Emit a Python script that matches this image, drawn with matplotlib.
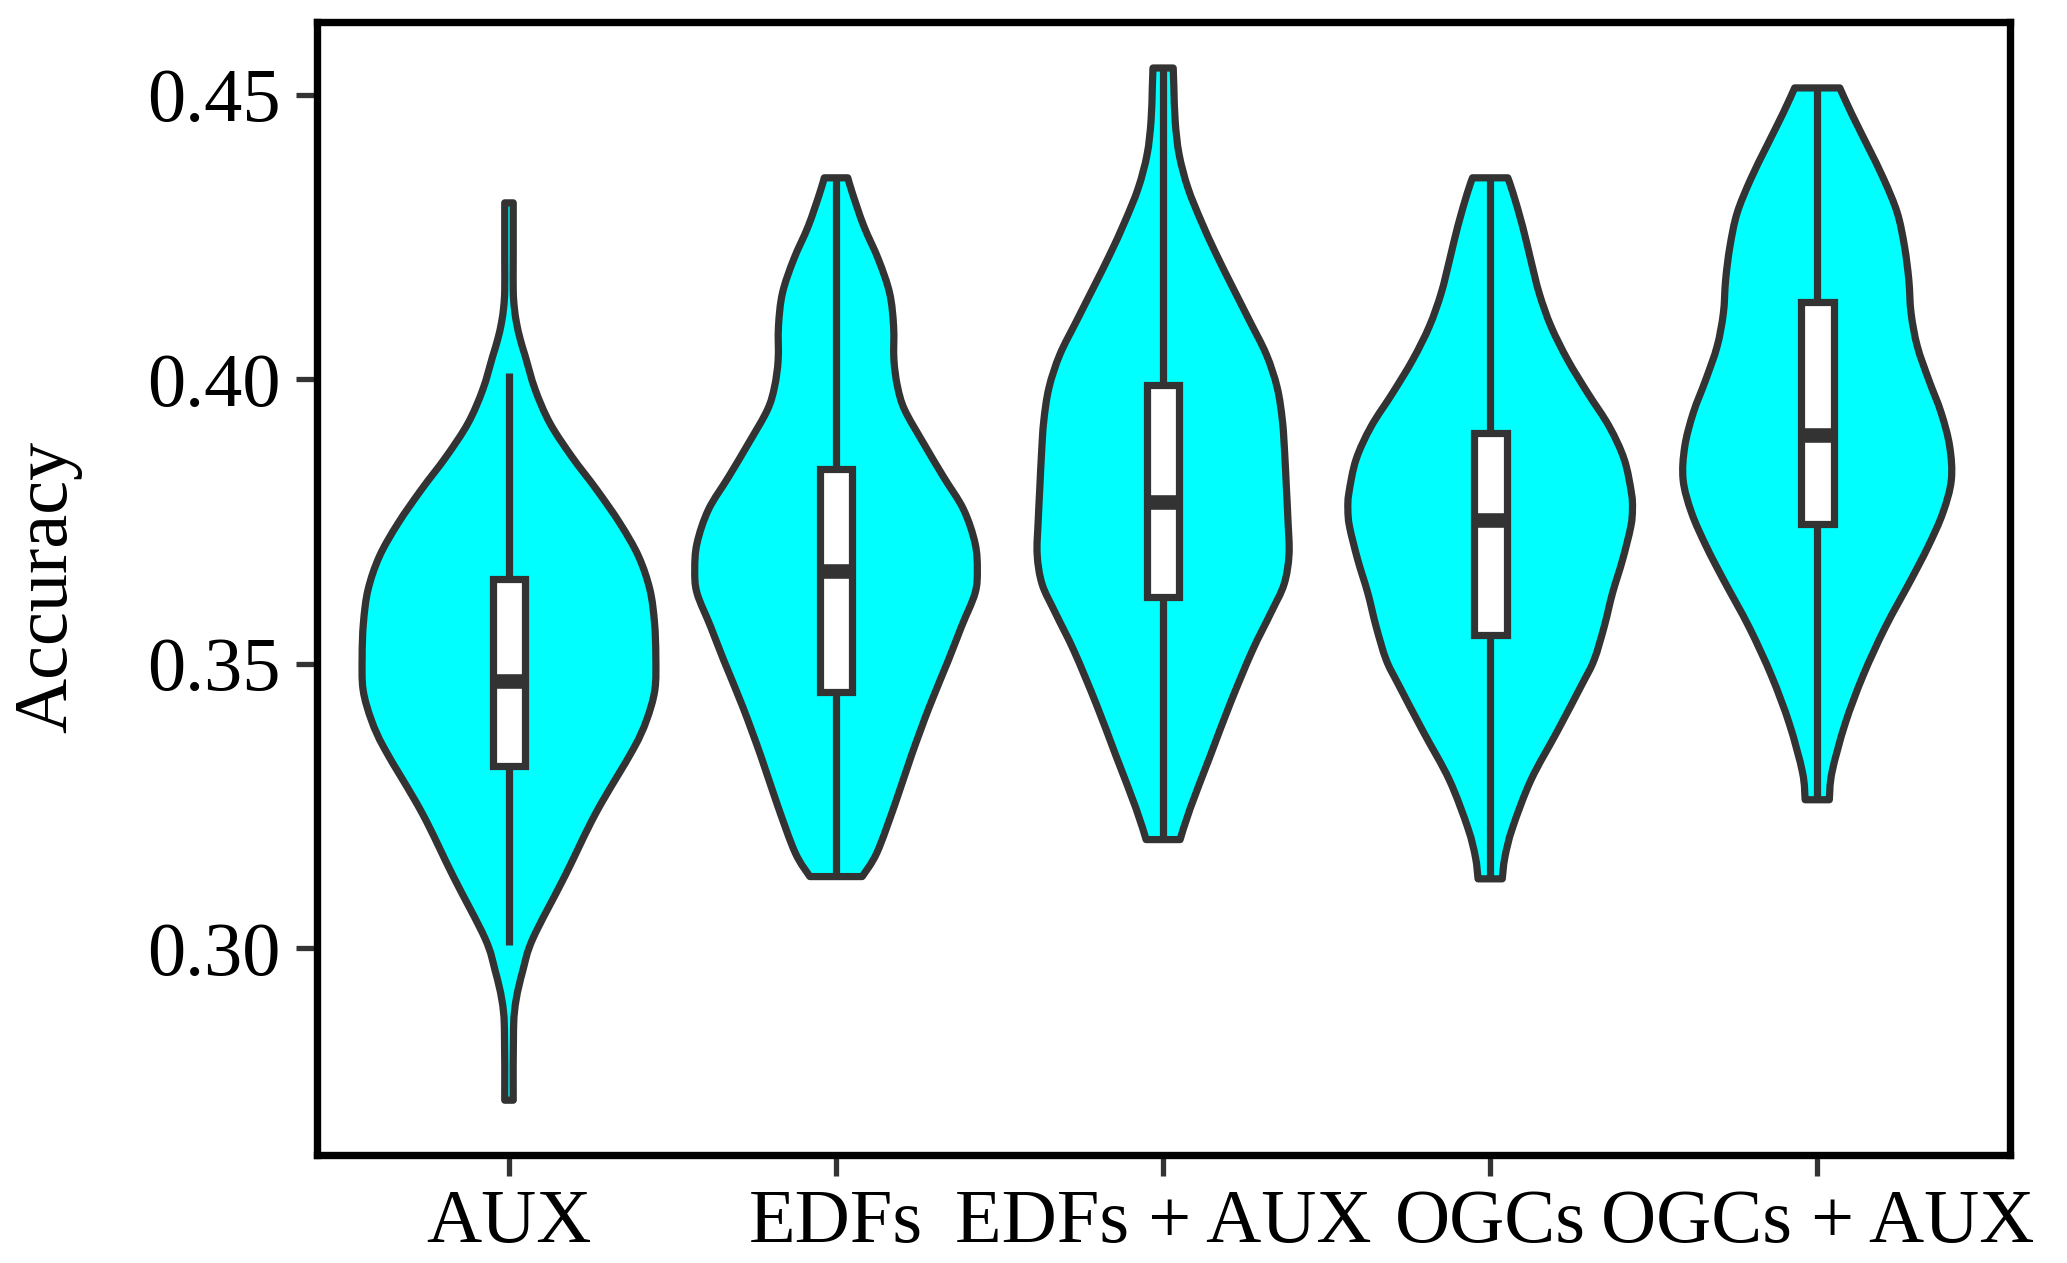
import numpy as np
import matplotlib.pyplot as plt
from matplotlib.path import Path
from matplotlib.patches import PathPatch

plt.rcParams['font.family'] = ['Liberation Serif', 'DejaVu Serif']

groups = ['AUX', 'EDFs', 'EDFs + AUX', 'OGCs', 'OGCs + AUX']

# violin outlines: accuracy level -> half width (x units)
aux_lv = [0.4310, 0.4216, 0.4157, 0.4128, 0.4099, 0.4069, 0.4040, 0.3982, 0.3923, 0.3864,
          0.3806, 0.3747, 0.3689, 0.3630, 0.3572, 0.3513, 0.3454, 0.3400, 0.3349, 0.3238,
          0.3127, 0.3017, 0.2960, 0.2910, 0.2860, 0.2733]
aux_hw = [0.013, 0.013, 0.013, 0.016, 0.023, 0.035, 0.050, 0.080, 0.125, 0.192,
          0.268, 0.339, 0.396, 0.431, 0.445, 0.449, 0.446, 0.420, 0.379, 0.266,
          0.171, 0.073, 0.042, 0.022, 0.014, 0.013]

edf_lv = [0.4354, 0.4327, 0.4269, 0.4210, 0.4151, 0.4093, 0.4034, 0.3987, 0.3946, 0.3888,
          0.3829, 0.3771, 0.3712, 0.3665, 0.3624, 0.3566, 0.3507, 0.3424, 0.3338, 0.3253,
          0.3168, 0.3126]
edf_hw = [0.036, 0.050, 0.085, 0.130, 0.164, 0.176, 0.177, 0.188, 0.210, 0.267,
          0.328, 0.390, 0.425, 0.432, 0.425, 0.384, 0.344, 0.285, 0.230, 0.180,
          0.125, 0.080]

edfaux_lv = [0.4547, 0.4512, 0.4453, 0.4395, 0.4336, 0.4277, 0.4219, 0.4160, 0.4102, 0.4043,
             0.3985, 0.3926, 0.3867, 0.3809, 0.3750, 0.3692, 0.3640, 0.3590, 0.3522, 0.3430,
             0.3338, 0.3246, 0.3191]
edfaux_hw = [0.031, 0.033, 0.037, 0.049, 0.076, 0.117, 0.163, 0.214, 0.265, 0.316,
             0.349, 0.365, 0.372, 0.377, 0.382, 0.385, 0.370, 0.330, 0.272, 0.205,
             0.144, 0.083, 0.052]

ogc_lv = [0.4354, 0.4327, 0.4269, 0.4210, 0.4151, 0.4093, 0.4034, 0.3976, 0.3917, 0.3859,
          0.3800, 0.3771, 0.3741, 0.3683, 0.3624, 0.3566, 0.3507, 0.3463, 0.3381, 0.3296,
          0.3211, 0.3160, 0.3122]
ogc_hw = [0.054, 0.070, 0.099, 0.124, 0.150, 0.186, 0.237, 0.298, 0.364, 0.410,
          0.432, 0.435, 0.430, 0.405, 0.374, 0.349, 0.318, 0.280, 0.205, 0.125,
          0.068, 0.045, 0.037]

ogcaux_lv = [0.4512, 0.4468, 0.4409, 0.4351, 0.4292, 0.4233, 0.4175, 0.4116, 0.4058, 0.3999,
             0.3941, 0.3882, 0.3823, 0.3765, 0.3706, 0.3648, 0.3564, 0.3479, 0.3394, 0.3309,
             0.3261]
ogcaux_hw = [0.069, 0.104, 0.155, 0.204, 0.245, 0.267, 0.280, 0.287, 0.306, 0.341,
             0.379, 0.405, 0.410, 0.384, 0.339, 0.287, 0.208, 0.140, 0.085, 0.045,
             0.037]

# box plot stats
q1 = [0.3321, 0.3450, 0.3617, 0.3551, 0.3746]
med = [0.3469, 0.3663, 0.3784, 0.3753, 0.3902]
q3 = [0.3649, 0.3842, 0.3990, 0.3906, 0.4135]
whislo = [0.3005, 0.3126, 0.3191, 0.3122, 0.3261]
whishi = [0.4011, 0.4354, 0.4547, 0.4354, 0.4512]

profiles = [(aux_lv, aux_hw), (edf_lv, edf_hw), (edfaux_lv, edfaux_hw),
            (ogc_lv, ogc_hw), (ogcaux_lv, ogcaux_hw)]

EDGE = '#333333'
LW = 5.2


def bezier_side(xs, ys):
    # catmull-rom through the read points, as cubic bezier segments
    p = np.column_stack([xs, ys])
    n = len(p)
    out = []
    for i in range(n - 1):
        p0 = p[i - 1] if i > 0 else p[i]
        p1, p2 = p[i], p[i + 1]
        p3 = p[i + 2] if i + 2 < n else p[i + 1]
        out += [p1 + (p2 - p0) / 6, p2 - (p3 - p1) / 6, p2]
    return out


def violin_path(c, lv, hw):
    lv = np.array(lv)
    hw = np.array(hw)
    verts = [(c - hw[0], lv[0]), (c + hw[0], lv[0])]
    codes = [Path.MOVETO, Path.LINETO]
    right = bezier_side(c + hw, lv)
    verts += right
    codes += [Path.CURVE4] * len(right)
    verts.append((c - hw[-1], lv[-1]))
    codes.append(Path.LINETO)
    left = bezier_side((c - hw)[::-1], lv[::-1])
    verts += left
    codes += [Path.CURVE4] * len(left)
    verts.append(verts[0])
    codes.append(Path.CLOSEPOLY)
    return Path(np.array(verts, dtype=float), codes)


fig = plt.figure(figsize=(20.67, 12.63), dpi=100)
ax = fig.add_axes([0.1532, 0.0852, 0.8190, 0.8970])

for i, (lv, hw) in enumerate(profiles):
    patch = PathPatch(violin_path(i, lv, hw), facecolor='#00FFFF', edgecolor=EDGE,
                      linewidth=LW, joinstyle='round', zorder=2)
    ax.add_patch(patch)

stats = [dict(med=med[i], q1=q1[i], q3=q3[i], whislo=whislo[i], whishi=whishi[i], fliers=[])
         for i in range(len(groups))]
ax.bxp(stats, positions=range(len(groups)), widths=0.1, patch_artist=True,
       showcaps=False, showfliers=False, manage_ticks=False, zorder=3,
       boxprops=dict(facecolor='white', edgecolor=EDGE, linewidth=LW),
       whiskerprops=dict(color=EDGE, linewidth=LW, solid_capstyle='butt'),
       medianprops=dict(color=EDGE, linewidth=10.5, solid_capstyle='butt'))

ax.set_xlim(-0.588, 4.588)
ax.set_ylim(0.2636, 0.4627)
ax.set_xticks(range(len(groups)))
ax.set_xticklabels(groups)
ax.set_yticks([0.30, 0.35, 0.40, 0.45])
ax.set_yticklabels(['0.30', '0.35', '0.40', '0.45'])
ax.tick_params(axis='both', length=15, width=3.8, color=EDGE, labelsize=55, labelcolor='black')
ax.tick_params(axis='y', pad=11)
ax.tick_params(axis='x', pad=9)
for s in ax.spines.values():
    s.set_linewidth(5.3)
    s.set_color('black')

fig.text(0.0232, 0.5356, 'Accuracy', rotation=90, ha='center', va='center', fontsize=55)

fig.savefig('out.png', dpi=100)
